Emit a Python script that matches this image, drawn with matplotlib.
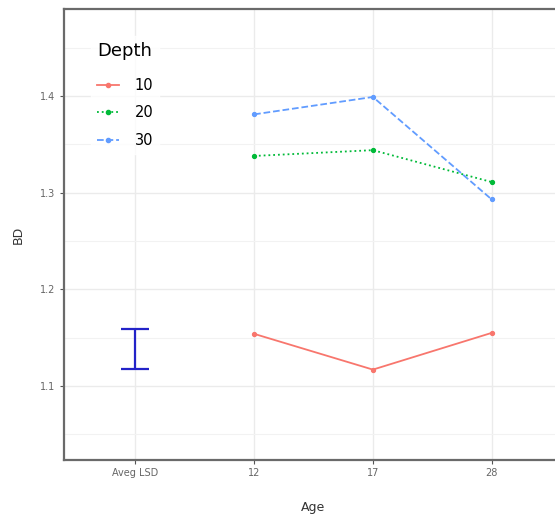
import numpy as np
import matplotlib
matplotlib.use('Agg')
import matplotlib.pyplot as plt
from matplotlib.lines import Line2D

# categories on the x axis (discrete)
categories = ['Aveg LSD', '12', '17', '28']
ages = ['12', '17', '28']

# mean BD by depth
depths = ['10', '20', '30']
bd_10 = [1.154, 1.117, 1.155]
bd_20 = [1.338, 1.344, 1.311]
bd_30 = [1.381, 1.399, 1.293]

# average LSD bar
lsd_low = 1.118
lsd_high = 1.159

colors = ['#F8766D', '#00BA38', '#619CFF']
styles = ['-', ':', '--']

fig = plt.figure(figsize=(5.55, 5.19), dpi=100)
W, H = 555, 519
ax = fig.add_axes([64 / W, 1 - 460 / H, (563 - 64) / W, (460 - 9) / H])

xpos = {c: i + 1 for i, c in enumerate(categories)}
ax_x = [xpos[a] for a in ages]

for vals, col, ls, lab in zip([bd_10, bd_20, bd_30], colors, styles, depths):
    ax.plot(ax_x, vals, color=col, ls=ls, lw=1.3, marker='o', ms=2.8, label=lab, zorder=3)

# LSD error bar
lsd_mid = (lsd_low + lsd_high) / 2
ax.errorbar([xpos['Aveg LSD']], [lsd_mid], yerr=[[lsd_mid - lsd_low], [lsd_high - lsd_mid]],
            fmt='none', ecolor='#2323c8', elinewidth=1.6, capsize=10, capthick=1.6, zorder=3)

ax.set_xlim(0.4, 4.6)
ax.set_ylim(1.0235, 1.49)
ax.set_xticks(range(1, 5))
ax.set_xticklabels(categories)
ax.set_yticks([1.1, 1.2, 1.3, 1.4])
ax.set_yticks([1.05, 1.15, 1.25, 1.35, 1.45], minor=True)

ax.grid(True, which='major', color='#ebebeb', lw=1.0)
ax.grid(True, which='minor', axis='y', color='#f2f2f2', lw=0.8)
ax.set_axisbelow(True)
ax.tick_params(which='minor', length=0)
ax.tick_params(which='major', length=3, color='#555555', labelsize=7,
               labelcolor='#666666', pad=3)
for t in ax.get_xticklabels() + ax.get_yticklabels():
    t.set_family(['Liberation Sans Narrow', 'DejaVu Sans'])

for s in ax.spines.values():
    s.set_color('#6a6a6a')
    s.set_linewidth(1.6)

ax.set_xlabel('Age', fontsize=9, color='#333333', labelpad=16)
ax.set_ylabel('BD', fontsize=9, color='#333333', labelpad=11)

handles = [Line2D([0], [0], color=c, ls=s, lw=1.3, marker='o', ms=3) for c, s in zip(colors, styles)]
leg = ax.legend(handles, depths, title='Depth', loc='upper left',
                bbox_to_anchor=(0.054, 0.94), frameon=True, fontsize=10.5,
                title_fontsize=13, handlelength=1.5, labelspacing=0.85,
                borderpad=0.4, handletextpad=1.1, borderaxespad=0)
leg.get_frame().set_facecolor('white')
leg.get_frame().set_edgecolor('white')
leg.get_frame().set_boxstyle('square', pad=0)
leg._legend_box.align = 'left'
leg._legend_box.sep = 13

fig.savefig('out.png', dpi=100)
